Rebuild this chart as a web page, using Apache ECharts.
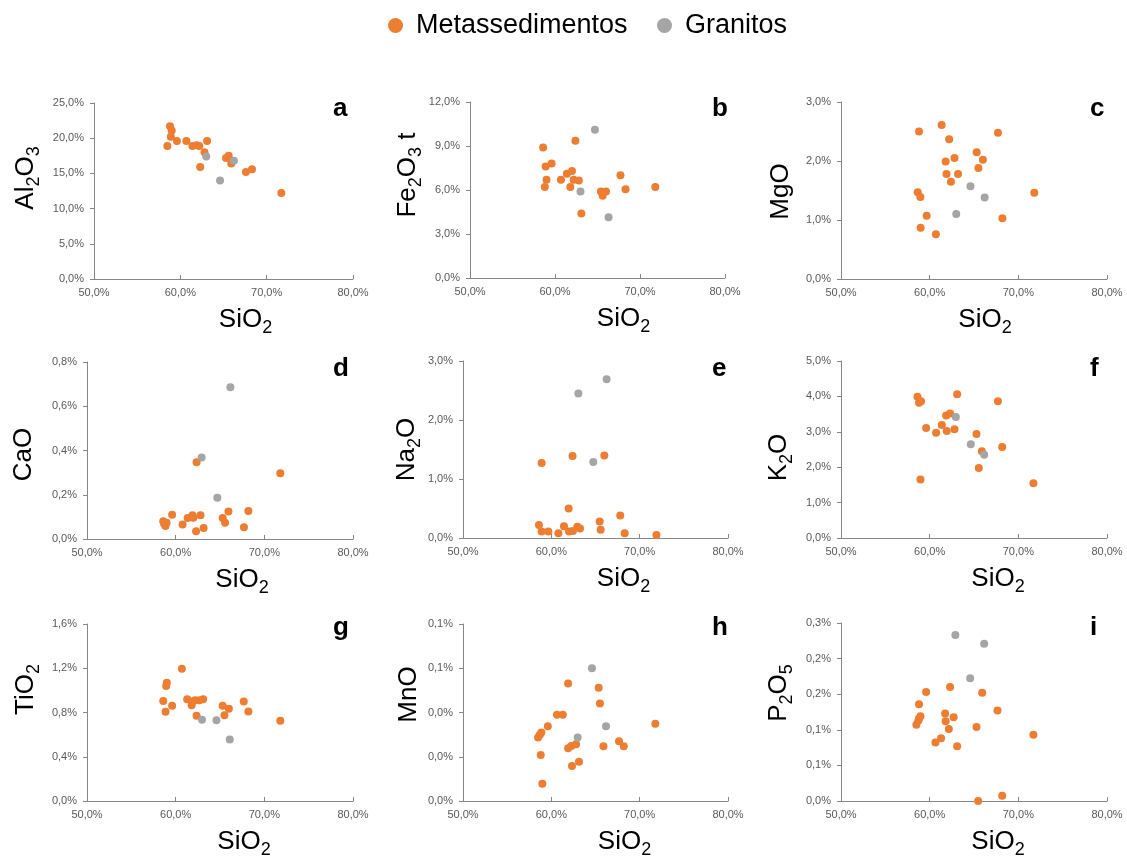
<!DOCTYPE html>
<html><head><meta charset="utf-8">
<script src="https://cdn.jsdelivr.net/npm/echarts@6/dist/echarts.min.js"></script>
<style>html,body{margin:0;padding:0;background:#fff}#c{width:1127px;height:865px}</style>
</head><body><div id="c"></div>
<script>
// ---------- data (values in wt %) ----------
const seriesNames = ['Metassedimentos', 'Granitos'];
const panelLetters = ['a', 'b', 'c', 'd', 'e', 'f', 'g', 'h', 'i'];
const xTitle = '{m|SiO}{s|2}';
const yTitles = ['{m|Al}{s|2}{m|O}{s|3}', '{m|Fe}{s|2}{m|O}{s|3}{m| t}', '{m|MgO}',
                 '{m|CaO}', '{m|Na}{s|2}{m|O}', '{m|K}{s|2}{m|O}',
                 '{m|TiO}{s|2}', '{m|MnO}', '{m|P}{s|2}{m|O}{s|5}'];
const xMin = 50, xMax = 80, xStep = 10;
const yMaxes = [25, 12, 3, 0.8, 3, 5, 1.6, 0.08, 0.25];
const ySteps = [5, 3, 1, 0.2, 1, 1, 0.4, 0.02, 0.05];

const al2o3Meta = [[58.5,18.9],[58.8,21.7],[59.0,21.1],[58.9,20.2],[59.6,19.6],[60.7,19.6],[61.4,18.9],[61.9,19.0],[62.2,18.9],[62.8,18.0],[62.3,15.9],[63.1,19.6],[65.3,17.2],[65.6,17.5],[65.9,16.4],[67.6,15.2],[68.3,15.6],[71.7,12.2]];
const al2o3Gran = [[63.0,17.4],[64.6,14.0],[66.2,16.8]];
const fe2o3Meta = [[58.6,8.9],[58.9,7.6],[59.6,7.8],[59.0,6.7],[58.8,6.2],[60.7,6.7],[61.4,7.1],[62.0,7.3],[62.2,6.7],[62.8,6.65],[61.8,6.2],[62.4,9.35],[63.1,4.4],[65.4,5.9],[65.6,5.6],[66.0,5.9],[67.7,7.0],[68.3,6.05],[71.8,6.2]];
const fe2o3Gran = [[63.0,5.9],[64.7,10.1],[66.3,4.15]];
const mgoMeta = [[58.8,2.50],[61.35,2.61],[62.2,2.37],[61.8,1.99],[62.8,2.05],[61.9,1.78],[63.2,1.78],[62.4,1.65],[58.65,1.47],[58.95,1.39],[59.66,1.07],[58.98,0.87],[60.7,0.76],[65.3,2.15],[66.0,2.02],[65.5,1.88],[67.7,2.48],[68.2,1.03],[71.8,1.46]];
const mgoGran = [[63.0,1.10],[64.6,1.57],[66.2,1.38]];
const caoMeta = [[58.6,0.080],[58.85,0.059],[58.97,0.074],[58.7,0.069],[59.6,0.11],[60.78,0.066],[61.35,0.095],[61.9,0.107],[62.0,0.096],[62.3,0.035],[62.36,0.347],[62.8,0.107],[63.15,0.05],[65.3,0.095],[65.57,0.074],[65.95,0.124],[67.7,0.053],[68.2,0.127],[71.8,0.297]];
const caoGran = [[62.93,0.368],[64.7,0.187],[66.17,0.686]];
const na2oMeta = [[58.9,1.27],[62.4,1.39],[66.0,1.40],[61.96,0.50],[67.8,0.38],[58.6,0.22],[58.9,0.11],[59.66,0.11],[60.8,0.08],[61.43,0.20],[62.0,0.11],[62.45,0.12],[62.94,0.19],[63.25,0.16],[65.47,0.28],[65.58,0.14],[68.3,0.08],[71.9,0.05]];
const na2oGran = [[63.06,2.45],[64.75,1.29],[66.26,2.69]];
const k2oMeta = [[58.62,3.99],[58.8,3.82],[59.03,3.86],[58.96,1.65],[59.6,3.11],[60.73,2.97],[61.37,3.19],[61.86,3.46],[61.93,3.02],[62.3,3.52],[62.8,3.07],[63.1,4.06],[65.28,2.94],[65.54,1.98],[65.88,2.45],[67.7,3.86],[68.18,2.57],[71.7,1.55]];
const k2oGran = [[62.95,3.42],[64.64,2.65],[66.15,2.35]];
const tio2Meta = [[58.6,0.903],[58.86,0.806],[58.93,1.04],[59.0,1.07],[59.6,0.86],[60.7,1.195],[61.3,0.92],[61.8,0.866],[61.9,0.90],[62.36,0.77],[62.2,0.91],[62.67,0.91],[63.1,0.92],[65.3,0.86],[65.5,0.776],[66.0,0.833],[67.68,0.90],[68.2,0.81],[71.8,0.725]];
const tio2Gran = [[62.97,0.734],[64.6,0.73],[66.1,0.555]];
const mnoMeta = [[58.98,0.0078],[58.8,0.0208],[58.5,0.0287],[58.7,0.030],[58.87,0.031],[59.6,0.0338],[60.64,0.039],[61.3,0.039],[61.9,0.0531],[61.9,0.0238],[62.26,0.0249],[62.8,0.0257],[62.34,0.0158],[63.13,0.0177],[65.36,0.0512],[65.5,0.0441],[65.9,0.0248],[67.66,0.027],[68.2,0.0248],[71.77,0.0349]];
const mnoGran = [[62.98,0.0287],[64.6,0.060],[66.19,0.0338]];
const p2o5Meta = [[58.8,0.136],[58.5,0.107],[58.73,0.113],[58.96,0.119],[58.8,0.116],[59.6,0.153],[60.65,0.082],[61.29,0.088],[61.74,0.123],[61.8,0.112],[62.3,0.160],[62.16,0.101],[62.7,0.1175],[63.1,0.077],[65.28,0.104],[65.92,0.152],[67.65,0.127],[71.7,0.093],[65.47,0.0],[68.18,0.0075]];
const p2o5Gran = [[62.9,0.233],[66.15,0.221],[64.57,0.1725]];

const metaData = [al2o3Meta, fe2o3Meta, mgoMeta, caoMeta, na2oMeta, k2oMeta, tio2Meta, mnoMeta, p2o5Meta];
const granData = [al2o3Gran, fe2o3Gran, mgoGran, caoGran, na2oGran, k2oGran, tio2Gran, mnoGran, p2o5Gran];

// ---------- layout ----------
const colors = ['#ED7D31', '#A5A5A5'];
const FONT = 'Liberation Sans, Arial, sans-serif';
const grids = [
  {left: 94, top: 103, width: 259, height: 176},
  {left: 470, top: 102, width: 255, height: 176},
  {left: 841, top: 102, width: 266, height: 177},
  {left: 87, top: 362, width: 266, height: 177},
  {left: 463, top: 361, width: 265, height: 177},
  {left: 841, top: 361, width: 266, height: 177},
  {left: 87, top: 624, width: 266, height: 177},
  {left: 463, top: 624, width: 265, height: 177},
  {left: 841, top: 623, width: 266, height: 178}
];
const yNameGap = [51, 44, 43, 46, 37, 45, 44, 37, 45];
const yNameUp = [13, 15, -1, -4, 0, -8, 23, 18, 19];
const xNameRight = [22, 26, 11, 22, 28, 24, 24, 29, 24];
const letterX = [333, 712, 1090];
const letterBase = [117, 377, 636];
const legendLeft = [383, 652];

const fmt = v => (Math.round(v * 10 + 1e-9) / 10).toFixed(1).replace('.', ',') + '%';
const rich = {
  m: {fontSize: 26, fontFamily: FONT, color: '#000', lineHeight: 34, verticalAlign: 'middle'},
  s: {fontSize: 18, fontFamily: FONT, color: '#000', lineHeight: 17, verticalAlign: 'bottom'}
};
const axisLine = {show: true, lineStyle: {color: '#868686', width: 1}};
const axisLabel = {fontSize: 11, color: '#595959', fontFamily: FONT, formatter: fmt};

const option = {
  animation: false,
  backgroundColor: '#fff',
  legend: seriesNames.map((n, i) => ({
    data: [n], left: legendLeft[i], top: 7,
    icon: 'circle', itemWidth: 15, itemHeight: 15,
    textStyle: {fontSize: 27, color: '#000', fontFamily: FONT, padding: [0, 0, 0, 8]}
  })),
  grid: grids,
  xAxis: grids.map((g, i) => ({
    type: 'value', gridIndex: i, min: xMin, max: xMax, interval: xStep,
    axisLine, axisTick: {show: true, inside: true, length: 4, lineStyle: {color: '#868686'}},
    splitLine: {show: false}, axisLabel: Object.assign({margin: 8, showMaxLabel: true, showMinLabel: true}, axisLabel),
    name: xTitle, nameLocation: 'middle', nameGap: 24,
    nameTextStyle: {rich, padding: [0, 0, 0, 2 * xNameRight[i]]}
  })),
  yAxis: grids.map((g, i) => ({
    type: 'value', gridIndex: i, min: 0, max: yMaxes[i], interval: ySteps[i],
    axisLine, axisTick: {show: true, inside: false, length: 4, lineStyle: {color: '#868686'}},
    splitLine: {show: false}, axisLabel: Object.assign({margin: 10}, axisLabel),
    name: yTitles[i], nameLocation: 'middle', nameGap: yNameGap[i], nameRotate: 90,
    nameTextStyle: {rich, padding: yNameUp[i] >= 0 ? [0, 0, 0, 2 * yNameUp[i]] : [0, -2 * yNameUp[i], 0, 0]}
  })),
  series: [],
  graphic: panelLetters.map((l, i) => ({
    type: 'text', x: letterX[i % 3], y: letterBase[Math.floor(i / 3)] + 5,
    style: {text: l, fontSize: 26, fontWeight: 'bold', fontFamily: FONT, fill: '#000', align: 'left', verticalAlign: 'bottom'}
  }))
};
for (let i = 0; i < 9; i++) {
  option.series.push({type: 'scatter', name: seriesNames[0], xAxisIndex: i, yAxisIndex: i, data: metaData[i], symbolSize: 8, itemStyle: {color: colors[0], opacity: 1}});
}
for (let i = 0; i < 9; i++) {
  option.series.push({type: 'scatter', name: seriesNames[1], xAxisIndex: i, yAxisIndex: i, data: granData[i], symbolSize: 8, itemStyle: {color: colors[1], opacity: 1}});
}
const chart = echarts.init(document.getElementById('c'), null, {renderer: 'canvas'});
chart.setOption(option);
</script></body></html>
